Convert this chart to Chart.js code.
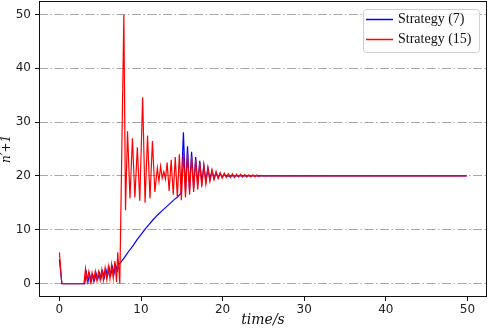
<!DOCTYPE html>
<html>
<head>
<meta charset="utf-8">
<script src="https://cdn.jsdelivr.net/npm/chart.js@4.4.1/dist/chart.umd.min.js"></script>
<style>
  html, body { margin: 0; padding: 0; background: #fff; }
  #wrap { width: 490px; height: 332px; }
</style>
</head>
<body>
<div id="wrap"><canvas id="chart" width="490" height="332"></canvas></div>
<script>
// tick labels
const xTicks = [0, 10, 20, 30, 40, 50];
const yTicks = [0, 10, 20, 30, 40, 50];

// Strategy (7) - blue
const blueTime = [0, 0.3, 3.1, 3.3, 3.5, 3.7, 3.9, 4.1, 4.3, 4.5, 4.7, 4.9, 5.1, 5.3, 5.5, 5.7, 5.9, 6.1, 6.3, 6.5, 6.7, 6.9, 7.1, 7.3, 7.5,
  8.0, 8.5, 9.0, 9.5, 10.0, 10.5, 11.0, 11.5, 12.0, 12.5, 13.0, 13.5, 14.0, 14.5, 14.9,
  15.2, 15.45, 15.7, 15.95, 16.2, 16.45, 16.7, 16.95, 17.2, 17.45, 17.7, 17.95, 18.2, 18.45, 18.7, 18.95, 19.2, 19.45, 19.7, 19.95, 20.2, 20.6, 21.0, 49.9];
const blueValue = [4.5, 0, 0, 2.0, 0.3, 1.8, 0.4, 1.6, 0.6, 1.9, 0.8, 2.0, 1.0, 2.3, 1.1, 2.6, 1.4, 2.9, 1.6, 3.1, 1.9, 3.4, 2.4, 3.6, 3.9,
  4.9, 6.0, 7.0, 8.1, 9.1, 10.1, 11.0, 11.9, 12.7, 13.4, 14.1, 14.8, 15.5, 16.1, 16.8,
  28.1, 17.0, 25.5, 17.3, 24.5, 17.8, 23.5, 18.3, 22.8, 18.7, 22.0, 19.0, 21.5, 19.3, 21.0, 19.5, 20.6, 19.7, 20.4, 19.8, 20.2, 19.95, 20.0, 20.0];

// Strategy (15) - red
const redTime = [0, 0.3, 3.0, 3.2, 3.4, 3.6, 3.8, 4.0, 4.2, 4.4, 4.6, 4.8, 5.0, 5.2, 5.4, 5.6, 5.8, 6.0, 6.2, 6.4, 6.6, 6.8, 7.0, 7.15, 7.4,
  7.9, 8.1, 8.35, 8.65, 8.95, 9.25, 9.55, 9.85, 10.2, 10.5, 10.8, 11.1, 11.4, 11.7,
  12.0, 12.2, 12.4, 12.6, 12.8, 13.0, 13.2, 13.45, 13.7, 13.95, 14.2, 14.45, 14.7, 14.95, 15.2, 15.45, 15.7, 15.95,
  16.2, 16.45, 16.7, 16.95, 17.2, 17.45, 17.7, 17.95, 18.2, 18.45, 18.7, 18.95, 19.2, 19.45, 19.7, 19.95, 20.2, 20.45,
  20.7, 20.95, 21.2, 21.45, 21.7, 21.95, 22.2, 22.45, 22.7, 22.95, 23.2, 23.45, 23.7, 23.95, 24.2, 24.45, 24.7, 25.0, 49.9];
const redValue = [5.8, 0, 0, 2.8, 0.5, 2.2, 0.3, 2.0, 0.4, 2.3, 0.5, 2.2, 0.6, 2.6, 0.6, 2.9, 0.8, 3.2, 0.9, 3.6, 1.0, 4.2, 0.3, 5.8, 0,
  50, 13.6, 28.3, 15.8, 27.0, 16.0, 25.3, 15.4, 34.6, 15.0, 27.5, 15.8, 26.5, 17.0,
  21.5, 19.0, 21.8, 19.6, 20.8, 19.4, 22.5, 17.2, 23.0, 16.5, 23.5, 16.0, 24.0, 15.5, 24.3, 16.0, 24.2, 16.5,
  23.6, 17.0, 23.0, 17.5, 22.5, 18.0, 22.0, 18.5, 21.5, 19.0, 21.1, 19.3, 20.8, 19.5, 20.6, 19.6, 20.5, 19.7,
  20.4, 19.7, 20.4, 19.7, 20.3, 19.8, 20.3, 19.8, 20.25, 19.8, 20.2, 19.8, 20.2, 19.85, 20.15, 19.9, 20.1, 20.0, 20.0];

const labels = ["Strategy (7)", "Strategy (15)"];
const colors = ["#0000ff", "#ff0000"];

function pairs(ts, vs) {
  return ts.map((t, i) => ({ x: t, y: vs[i] }));
}

const frameBox = {
  id: "frameBox",
  afterDraw(chart) {
    const { ctx, chartArea: a } = chart;
    ctx.save();
    ctx.strokeStyle = "#111";
    ctx.lineWidth = 1;
    ctx.strokeRect(a.left + 0.5, a.top + 0.5, a.right - a.left - 1, a.bottom - a.top - 1);
    ctx.restore();
  }
};

const boxLegend = {
  id: "boxLegend",
  afterDatasetsDraw(chart) {
    const { ctx } = chart;
    const x = 363, y = 9, w = 116, h = 43;
    ctx.save();
    ctx.fillStyle = "rgba(255,255,255,0.85)";
    ctx.strokeStyle = "#d0d0d0";
    ctx.lineWidth = 1;
    ctx.beginPath();
    ctx.roundRect(x + 0.5, y + 0.5, w, h, 3);
    ctx.fill();
    ctx.stroke();
    ctx.font = "14px 'Liberation Serif'";
    ctx.textBaseline = "middle";
    labels.forEach((label, i) => {
      const ly = 19.5 + i * 20;
      ctx.strokeStyle = colors[i];
      ctx.lineWidth = 1.5;
      ctx.beginPath();
      ctx.moveTo(366, ly);
      ctx.lineTo(393, ly);
      ctx.stroke();
      ctx.fillStyle = "#111";
      ctx.fillText(label, 398, ly);
    });
    ctx.restore();
  }
};

new Chart(document.getElementById("chart"), {
  type: "line",
  data: {
    datasets: [
      {
        label: labels[0],
        data: pairs(blueTime, blueValue),
        borderColor: colors[0],
        borderWidth: 1.2,
        pointRadius: 0,
        tension: 0,
        order: 1
      },
      {
        label: labels[1],
        data: pairs(redTime, redValue),
        borderColor: colors[1],
        borderWidth: 1.2,
        pointRadius: 0,
        tension: 0,
        order: 0
      }
    ]
  },
  options: {
    responsive: false,
    animation: false,
    layout: { padding: { top: 1, right: 3, left: 0, bottom: 0 } },
    plugins: {
      legend: { display: false },
      tooltip: { enabled: false }
    },
    scales: {
      x: {
        type: "linear",
        min: -2.5,
        max: 52.4,
        afterBuildTicks: (scale) => { scale.ticks = xTicks.map((v) => ({ value: v })); },
        afterFit: (scale) => {
          scale.height = 35;
          scale.paddingLeft = 0;
          scale.paddingRight = 0;
        },
        grid: { drawOnChartArea: false, drawTicks: true, tickLength: 4, tickColor: "#111", tickWidth: 1 },
        border: { display: false },
        ticks: { color: "#222", font: { family: "'DejaVu Sans'", size: 12 }, padding: 2, maxRotation: 0 },
        title: {
          display: true,
          text: "time/s",
          color: "#111",
          font: { family: "'DejaVu Serif'", style: "italic", size: 14 },
          padding: { top: 0, bottom: 3 }
        }
      },
      y: {
        type: "linear",
        min: -2.5,
        max: 52.5,
        afterBuildTicks: (scale) => { scale.ticks = yTicks.map((v) => ({ value: v })); },
        afterFit: (scale) => {
          scale.width = 39;
          scale.paddingTop = 0;
          scale.paddingBottom = 0;
        },
        grid: {
          color: "#a8a8a8",
          lineWidth: 1,
          drawTicks: true,
          tickLength: 4,
          tickColor: "#111",
          tickWidth: 1,
          tickBorderDash: []
        },
        border: { display: false, dash: [9, 2.5, 1.5, 2.5] },
        ticks: { color: "#222", font: { family: "'DejaVu Sans'", size: 12 }, padding: 4 },
        title: {
          display: true,
          text: "n′+1",
          color: "#111",
          font: { family: "'DejaVu Serif'", style: "italic", size: 12 },
          padding: { top: 0, bottom: 0 }
        }
      }
    }
  },
  plugins: [frameBox, boxLegend]
});
</script>
</body>
</html>
